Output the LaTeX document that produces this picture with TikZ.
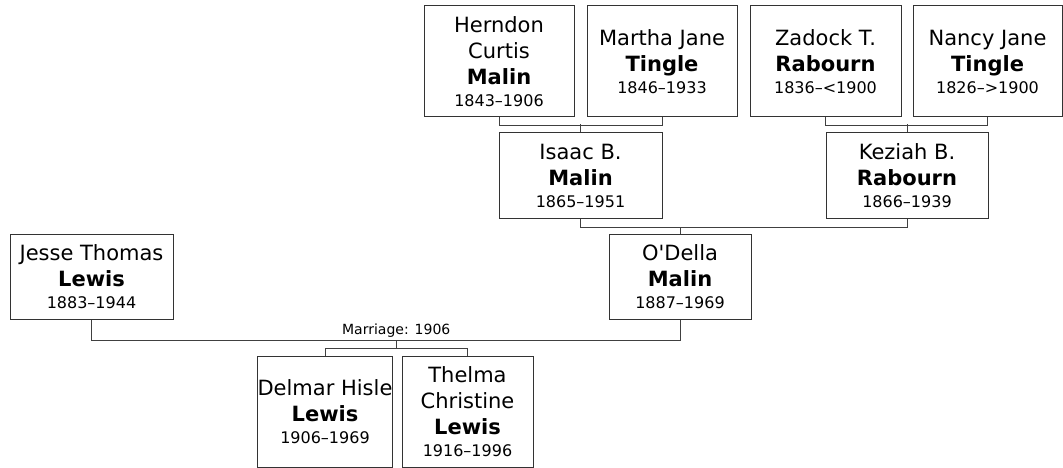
\documentclass[tikz,border=0pt]{standalone}
\usepackage{fontspec}
\setmainfont{DejaVu Sans}
\newcommand{\yrs}[1]{{\fontsize{16}{20}\selectfont #1}}
\newcommand{\sur}[1]{\textbf{#1}}
\begin{document}
\begin{tikzpicture}[x=1pt,y=-1pt,
  person/.style={draw=black!80,line width=1pt,fill=white,align=center,inner sep=0pt,
    font=\fontsize{21}{26}\selectfont},
  big/.style={person,minimum height=111pt},
  small/.style={person,minimum height=85pt},
  conn/.style={draw=black!75,line width=1pt}]
\useasboundingbox (0,0) rectangle (1063,468);
% generation 1
\node[big,minimum width=150pt] (herndon) at (499,61.5) {Herndon\\Curtis\\\sur{Malin}\\[-4pt]\yrs{1843–1906}};
\node[big,minimum width=150pt] (martha) at (662,61.5) {Martha Jane\\\sur{Tingle}\\[-4pt]\yrs{1846–1933}};
\node[big,minimum width=151pt] (zadock) at (825.5,61.5) {Zadock T.\\\sur{Rabourn}\\[-4pt]\yrs{1836–<1900}};
\node[big,minimum width=149pt] (nancy) at (987.5,61.5) {Nancy Jane\\\sur{Tingle}\\[-4pt]\yrs{1826–>1900}};
% generation 2
\node[small,minimum width=163pt] (isaac) at (580.5,175.5) {Isaac B.\\\sur{Malin}\\[-4pt]\yrs{1865–1951}};
\node[small,minimum width=162pt] (keziah) at (907,175.5) {Keziah B.\\\sur{Rabourn}\\[-4pt]\yrs{1866–1939}};
% generation 3
\node[small,minimum width=163pt] (jesse) at (91.5,276.5) {Jesse Thomas\\\sur{Lewis}\\[-4pt]\yrs{1883–1944}};
\node[small,minimum width=142pt] (odella) at (680,276.5) {O\textquotesingle Della\\\sur{Malin}\\[-4pt]\yrs{1887–1969}};
% generation 4
\node[big,minimum width=132pt] (delmar) at (325,411.5) {Delmar Hisle\\\sur{Lewis}\\[-4pt]\yrs{1906–1969}};
\node[big,minimum width=131pt] (thelma) at (467.5,411.5) {Thelma\\Christine\\\sur{Lewis}\\[-4pt]\yrs{1916–1996}};
% connectors
\draw[conn] (herndon.south) -- ++(0,8) -| (martha.south);
\draw[conn] (isaac.north) -- ++(0,-8);
\draw[conn] (zadock.south) -- ++(0,8) -| (nancy.south);
\draw[conn] (keziah.north) -- ++(0,-8);
\draw[conn] (isaac.south) -- ++(0,9) -| (keziah.south);
\draw[conn] (odella.north) -- ++(0,-7);
\draw[conn] (jesse.south) -- ++(0,21) -| (odella.south);
\coordinate (marr) at (396.25,340);
\node[anchor=south,inner sep=2pt,font=\fontsize{14}{16}\selectfont] (mlabel) at (marr) {Marriage: 1906};
\draw[conn] (marr) -- ++(0,9);
\draw[conn] (delmar.north) -- ++(0,-7) -| (thelma.north);
\end{tikzpicture}
\end{document}
